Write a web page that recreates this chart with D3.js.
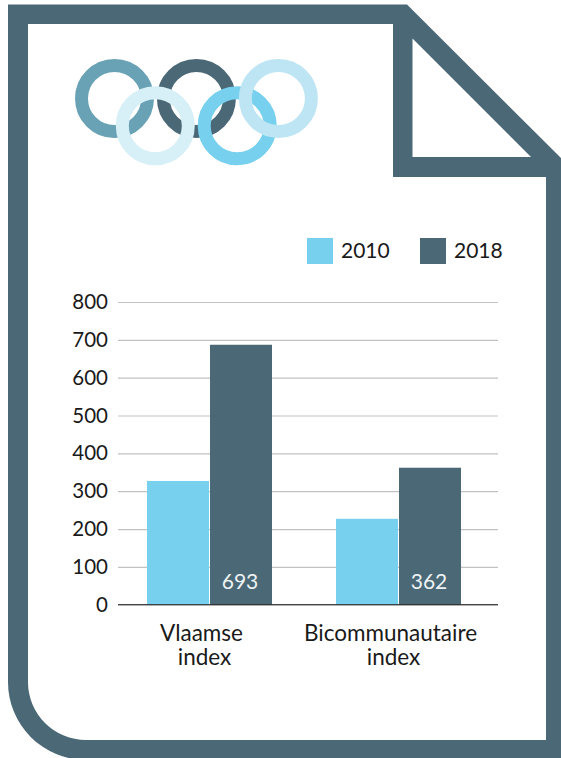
<!DOCTYPE html>
<html>
<head>
<meta charset="utf-8">
<script src="https://cdn.jsdelivr.net/npm/d3@7"></script>
<style>
  html, body { margin: 0; padding: 0; background: #fff; }
  svg { display: block; }
  text { font-family: Lato, sans-serif; fill: #1a1a1a; }
</style>
</head>
<body>
<script>
const categories = [['Vlaamse', 'index'], ['Bicommunautaire', 'index']]
const seriesNames = ['2010', '2018']
const values2010 = [327, 227]
const values2018 = [687, 362]
const barLabels2018 = ['693', '362']
const yTicks = [0, 100, 200, 300, 400, 500, 600, 700, 800]
const seriesColors = ['#76d0ee', '#4b6876']

const width = 561, height = 758
const frameColor = '#4b6876'

let svg = d3.select('body').append('svg')
  .attr('width', width)
  .attr('height', height)

// Page frame
let frame = svg.append('g').attr('id', 'frame')
frame.append('path')
  .attr('fill', frameColor)
  .attr('fill-rule', 'evenodd')
  .attr('d', 'M8,4.5 H407 L561,158 V760 H86 A78,78 0 0 1 8,682 Z ' +
             'M28,24 V682 A58,58 0 0 0 86,740 H546 V177 H393 V24 Z')
frame.append('path')
  .attr('fill', '#fff')
  .attr('d', 'M412.5,38.5 V157 H531 Z')

// Rings
const rings = [
  { cx: 114.5, cy: 98.5, color: '#6aa2b5' },
  { cx: 196.4, cy: 98.5, color: '#4b6876' },
  { cx: 155.3, cy: 125.7, color: '#d7eff7' },
  { cx: 237.2, cy: 125.7, color: '#76d0ee' },
  { cx: 278.4, cy: 98.5, color: '#bde5f4' }
]
svg.append('g').attr('id', 'rings').selectAll('circle').data(rings).join('circle')
  .attr('cx', d => d.cx)
  .attr('cy', d => d.cy)
  .attr('r', 33)
  .attr('fill', 'none')
  .attr('stroke', d => d.color)
  .attr('stroke-width', 13)

// Chart
const plotLeft = 118, plotRight = 498
let y = d3.scaleLinear().domain([0, 800]).range([604.7, 302])
let x0 = d3.scaleBand().domain(categories.map(d => d[0])).range([115, 493]).paddingInner(0.3386).paddingOuter(0.1693)
let x1 = d3.scaleBand().domain(seriesNames).range([0, x0.bandwidth()]).paddingInner(0.016)

let chart = svg.append('g').attr('id', 'chart')

let yAxis = chart.append('g')
  .attr('transform', `translate(${plotLeft},0)`)
  .call(d3.axisLeft(y).tickValues(yTicks).tickSize(-(plotRight - plotLeft)).tickPadding(10))
yAxis.select('.domain').remove()
yAxis.selectAll('.tick line').attr('stroke', '#c2c2c2').attr('stroke-width', 1.2)
yAxis.selectAll('.tick text').attr('font-size', 20.5)

const rows = categories.map((c, i) => ({ key: c[0], lines: c, vals: [values2010[i], values2018[i]], label: barLabels2018[i] }))

let groups = chart.selectAll('g.cat').data(rows).join('g')
  .attr('class', 'cat')
  .attr('transform', d => `translate(${x0(d.key)},0)`)

groups.selectAll('rect').data(d => d.vals).join('rect')
  .attr('x', (d, i) => x1(seriesNames[i]))
  .attr('y', d => y(d))
  .attr('width', x1.bandwidth())
  .attr('height', d => y(0) - y(d))
  .attr('fill', (d, i) => seriesColors[i])

groups.append('text')
  .attr('x', x1(seriesNames[1]) + x1.bandwidth() / 2 - 1)
  .attr('y', 589)
  .attr('text-anchor', 'middle')
  .attr('font-size', 21)
  .style('fill', '#eef3f5')
  .text(d => d.label)

// Baseline
chart.append('line')
  .attr('x1', plotLeft).attr('x2', plotRight)
  .attr('y1', y(0)).attr('y2', y(0))
  .attr('stroke', '#222').attr('stroke-width', 1)

// Category labels
groups.each(function (d) {
  d3.select(this).selectAll('text.catlabel').data(d.lines).join('text')
    .attr('class', 'catlabel')
    .attr('x', (l, i) => x0.bandwidth() / 2 - 8 + i * 3)
    .attr('y', (l, i) => 641 + i * 24)
    .attr('text-anchor', 'middle')
    .attr('font-size', 22.5)
    .text(l => l)
})

// Legend
const legendX = [307, 420]
let legend = svg.append('g').attr('id', 'legend').selectAll('g').data(seriesNames).join('g')
  .attr('transform', (d, i) => `translate(${legendX[i]},238)`)
legend.append('rect')
  .attr('width', 26).attr('height', 26)
  .attr('fill', (d, i) => seriesColors[i])
legend.append('text')
  .attr('x', 34).attr('y', 20)
  .attr('font-size', 21)
  .text(d => d)
</script>
</body>
</html>
